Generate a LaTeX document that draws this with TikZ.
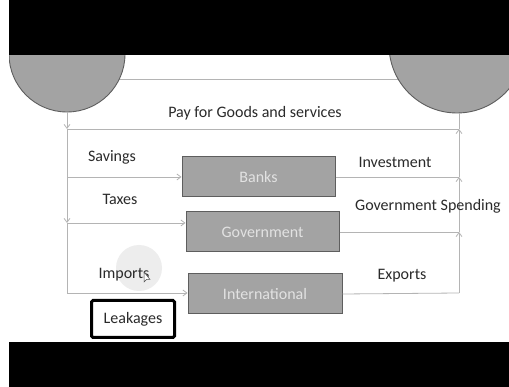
\documentclass[tikz,border=0pt]{standalone}
\usepackage{fontspec}
\setmainfont{Carlito}
\usepackage{tikz}
\usetikzlibrary{arrows.meta,calc,positioning}
\definecolor{FlowGray}{HTML}{A3A3A3}
\definecolor{FlowEdge}{HTML}{5E5E5E}
\definecolor{FlowLine}{HTML}{B4B4B4}
\definecolor{FlowText}{HTML}{2A2A2A}
\definecolor{BoxText}{HTML}{E2E2E2}
\tikzset{
  sector/.style={draw=FlowEdge, fill=FlowGray, circle, line width=0.9pt},
  flowbox/.style={draw=FlowEdge, fill=FlowGray, line width=1pt, minimum width=153pt, minimum height=40pt, inner sep=0pt, text=BoxText, font=\fontsize{16}{18}\selectfont},
  flowlabel/.style={text=FlowText, font=\fontsize{16}{18}\selectfont, inner sep=1pt},
  flowline/.style={draw=FlowLine, line width=0.8pt},
  flowarrow/.style={flowline, -{Straight Barb[length=4pt,width=6pt]}},
  markbox/.style={draw=black, line width=3pt, rounded corners=1.5pt, minimum width=83pt, minimum height=37pt, inner sep=0pt}
}
\begin{document}
\begin{tikzpicture}[x=1pt,y=-1pt]
  \useasboundingbox (0,0) rectangle (509,387);
  \fill[white] (0,0) rectangle (509,387);
  % ring between the two sectors
  \coordinate (ringL) at (100,79);
  \coordinate (ringR) at (420,79);
  \draw[flowline] (ringL) -- (ringR);
  \node[sector, minimum size=116pt] (house) at (67,54) {};
  \node[sector, minimum size=136pt] (firms) at (457,45) {};
  % frame
  \fill[black] (9,0) rectangle (509,55);
  \fill[black] (9,342) rectangle (509,387);
  \fill[white] (0,0) rectangle (9,387);
  % boxes
  \node[flowbox] (banks) at (258.5,177) {Banks};
  \node[flowbox] (govt) at (262.5,232) {Government};
  \node[flowbox, minimum width=154pt] (intl) at (265,294) {International};
  % junctions
  \coordinate (payL) at (67,129);
  \coordinate (payR) at (459,129);
  \coordinate (saveL) at (67,177);
  \coordinate (taxL) at (67,223);
  \coordinate (impL) at (67,293);
  \coordinate (invR) at (459,177);
  \coordinate (spendR) at (459,232);
  \coordinate (expR) at (459,293);
  \coordinate (firmsIn) at (459,113);
  % left side, money out
  \draw[flowarrow] (house.south) -- (payL);
  \draw[flowline] (payL) -- (saveL);
  \draw[flowarrow] (saveL) -- (taxL);
  \draw[flowline] (taxL) -- (impL);
  \draw[flowline] (payL) -- (payR);
  \draw[flowarrow] (saveL) -- (saveL -| banks.west);
  \draw[flowarrow] (taxL) -- (taxL -| govt.west);
  \draw[flowarrow] (impL) -- (impL -| intl.west);
  % right side, money back in
  \draw[flowline] (banks.east) -- (invR);
  \draw[flowline] (govt.east) -- (spendR);
  \draw[flowline] (intl.east) -- (expR);
  \foreach \a/\b in {expR/spendR,spendR/invR,invR/payR} {
    \draw[flowarrow] (\a) -- (\b);
  }
  \draw[flowline] (payR) -- (firmsIn);
  % pointer highlight
  \fill[black!7] (139,268) circle (23);
  \node[flowlabel] (paylbl) at (255,113) {Pay for Goods and services};
  \node[flowlabel] (savelbl) at (112,157) {Savings};
  \node[flowlabel] (taxlbl) at (120,199) {Taxes};
  \node[flowlabel] (implbl) at (124,275) {Imports};
  \node[flowlabel] (invlbl) at (395,162) {Investment};
  \node[flowlabel] (spendlbl) at (428,206) {Government Spending};
  \node[flowlabel] (explbl) at (402,276) {Exports};
  \filldraw[fill=white, draw=black!70, line width=0.5pt] (144,272) -- ++(0,10) -- ++(2.5,-2.5) -- ++(3.5,0) -- cycle;
  \node[flowlabel, markbox] (leak) at (133,319) {Leakages};
\end{tikzpicture}
\end{document}
